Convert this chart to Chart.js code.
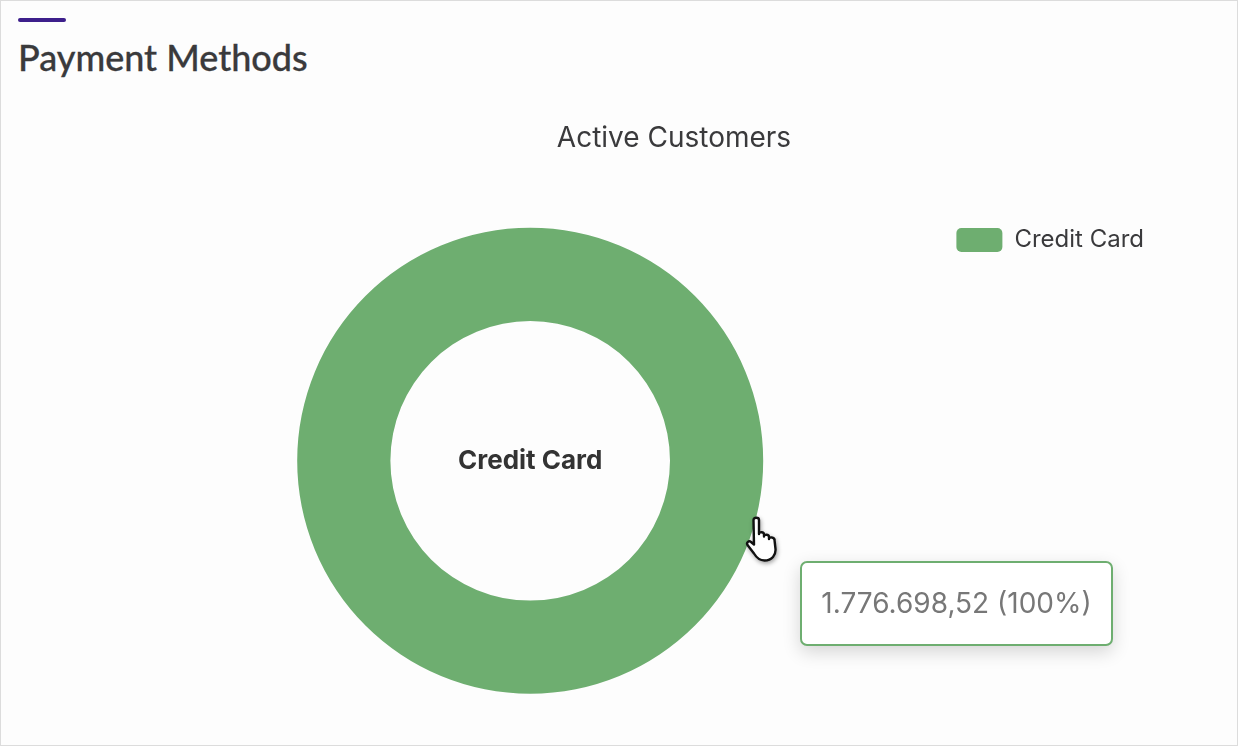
<!DOCTYPE html>
<html>
<head>
<meta charset="utf-8">
<title>Payment Methods</title>
<script src="https://cdn.jsdelivr.net/npm/chart.js@4/dist/chart.umd.min.js"></script>
<style>
  html, body { margin: 0; padding: 0; background: #fdfdfd; }
  .panel { position: relative; width: 1238px; height: 746px; box-sizing: border-box; border: 1px solid #dcdcdc; overflow: hidden; font-family: Inter, sans-serif; }
  .panel-bar { position: absolute; left: 17px; top: 17px; width: 48px; height: 4px; border-radius: 2px; background: #3d1f8b; }
  .panel-title { position: absolute; left: 17px; top: 34px; margin: 0; font: 500 36px Lato, sans-serif; -webkit-text-stroke: 0.3px #3a3a3c; color: #3a3a3c; white-space: nowrap; }
  #paymentChart { position: absolute; left: -1px; top: -1px; }
  .chart-tip { position: absolute; width: 313px; height: 85px; box-sizing: border-box; border: 2px solid #6eae70; border-radius: 7px; background: #fff; box-shadow: 0 6px 18px rgba(0,0,0,.16); color: #777; font: 400 28px Inter, sans-serif; line-height: 81px; text-align: center; white-space: nowrap; }
  .hand { position: absolute; width: 36px; height: 46px; filter: drop-shadow(1px 2px 2px rgba(0,0,0,.35)); }
</style>
</head>
<body>
<div class="panel">
  <div class="panel-bar"></div>
  <h2 class="panel-title">Payment Methods</h2>
  <canvas id="paymentChart" width="1238" height="746"></canvas>
  <div class="chart-tip" id="chartTip"></div>
  <svg class="hand" id="hand" viewBox="0 0 36 46">
    <path d="M9.500 4c0-3 5.500-3 5.500 0v14c0-2.500 5-2.500 5 .5v2c0-2.500 5-2.500 5 .5v2c0-2.500 5.500-2 5.500 1l1 9c.5 6-3.500 11.500-11 11.500-5 0-7.500-2-10.500-7l-6.500-8.500c-1.500-2.500 1.500-5 3.500-3l3 2.500z" fill="#fff" stroke="#111" stroke-width="2.400" stroke-linejoin="round"/>
  </svg>
</div>
<script>
const categories = ["Credit Card"];
const amounts = [1776698.52];
const colors = ["#6eae70"];
const chartTitle = "Active Customers";
const hoverPoint = { x: 757, y: 520 };
const legendTop = 138;

function money(value) {
  return new Intl.NumberFormat("de-DE", { minimumFractionDigits: 2, maximumFractionDigits: 2 }).format(value);
}

function percentOf(value) {
  const total = amounts.reduce((sum, item) => sum + item, 0);
  return Math.round(value / total * 100);
}

Chart.Tooltip.positioners.cursor = (elements, position) => position;

function drawTip(context) {
  const tip = context.tooltip;
  const box = document.getElementById("chartTip");
  const hand = document.getElementById("hand");
  box.textContent = tip.body && tip.body.length ? tip.body[0].lines[0] : "";
  box.style.left = (tip.caretX + 42) + "px";
  box.style.top = (tip.caretY + 40) + "px";
  hand.style.left = (tip.caretX - 14) + "px";
  hand.style.top = (tip.caretY - 5) + "px";
}

// the legend padding keeps title and ring centred apart, so the legend is lifted back up here
const legendLift = {
  id: "legendLift",
  afterLayout(chart) {
    chart.legend.top = legendTop;
  }
};

const centerLabel = {
  id: "centerLabel",
  afterDatasetsDraw(chart) {
    const arc = chart.getDatasetMeta(0).data[0];
    const ctx = chart.ctx;
    ctx.save();
    ctx.font = "700 26px Inter";
    ctx.fillStyle = "#333";
    ctx.textAlign = "center";
    ctx.textBaseline = "middle";
    ctx.fillText(categories[0], arc.x, arc.y);
    ctx.restore();
  }
};

const chart = new Chart(document.getElementById("paymentChart"), {
  type: "doughnut",
  data: {
    labels: categories,
    datasets: [{ data: amounts, backgroundColor: colors, hoverBackgroundColor: colors, borderWidth: 0, hoverOffset: 0 }]
  },
  plugins: [legendLift, centerLabel],
  options: {
    responsive: false,
    animation: false,
    radius: 233,
    cutout: "60%",
    layout: { padding: { left: 194, right: 84, bottom: 2 } },
    plugins: {
      title: {
        display: true,
        text: chartTitle,
        color: "#3a3a3c",
        font: { family: "Inter", size: 28, weight: "400" },
        padding: { top: 122, bottom: 22 }
      },
      legend: {
        position: "right",
        align: "start",
        fullSize: false,
        labels: { padding: 90, boxWidth: 46, boxHeight: 24, useBorderRadius: true, borderRadius: 5, color: "#3a3a3c", font: { family: "Inter", size: 24 } }
      },
      tooltip: {
        enabled: false,
        position: "cursor",
        external: drawTip,
        callbacks: {
          label: (item) => money(item.parsed) + " (" + percentOf(item.parsed) + "%)"
        }
      }
    }
  }
});

chart.tooltip.setActiveElements([{ datasetIndex: 0, index: 0 }], hoverPoint);
chart.draw();
</script>
</body>
</html>
